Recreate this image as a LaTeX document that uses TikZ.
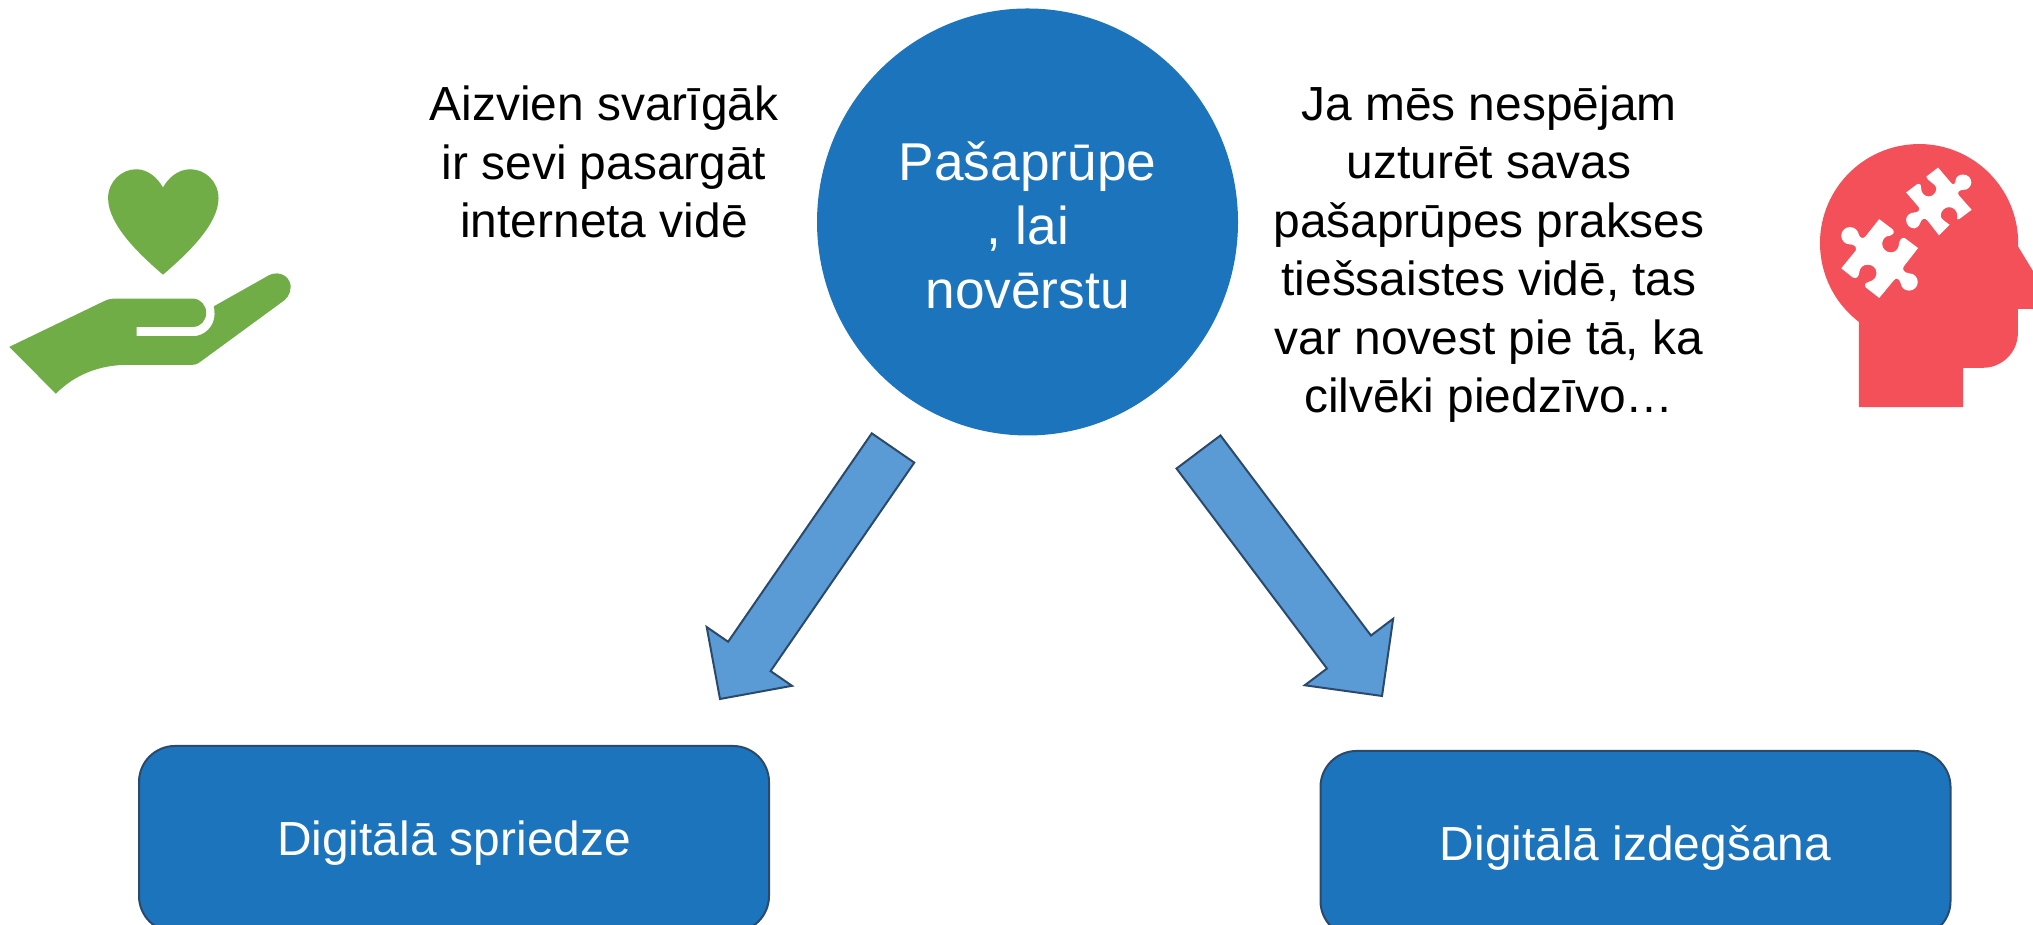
\documentclass[tikz,border=0pt]{standalone}
\usepackage{fontspec}
\setmainfont{Liberation Sans}
\usetikzlibrary{calc, positioning, shapes.geometric}
\definecolor{mainblue}{HTML}{1C74BD}
\definecolor{arrowblue}{HTML}{5B9BD5}
\definecolor{edgeblue}{HTML}{2B4A6B}
\definecolor{handgreen}{HTML}{70AD47}
\definecolor{headred}{HTML}{F4505A}
\tikzset{
  bodytext/.style = {align=center, font=\fontsize{13.62}{16.65}\selectfont},
  topicbox/.style = {draw=edgeblue, line width=0.02cm, fill=mainblue, text=white, rounded corners=0.36cm, minimum width=6.3cm, minimum height=1.86cm, text depth=0.5pt, font=\fontsize{13.62}{16.65}\selectfont},
  icon/.style = {x=0.00333cm, y=-0.00333cm},
  bigarrow/.style n args = {3}{draw=edgeblue, line width=0.02cm, fill=arrowblue, to path={
    ($(\tikztostart)!#1!90:(\tikztotarget)$)
    -- ($($(\tikztotarget)!#3!(\tikztostart)$)!#1!90:(\tikztotarget)$)
    -- ($($(\tikztotarget)!#3!(\tikztostart)$)!#2!90:(\tikztotarget)$)
    -- (\tikztotarget)
    -- ($($(\tikztotarget)!#3!(\tikztostart)$)!#2!-90:(\tikztotarget)$)
    -- ($($(\tikztotarget)!#3!(\tikztostart)$)!#1!-90:(\tikztotarget)$)
    -- ($(\tikztostart)!#1!-90:(\tikztotarget)$) -- cycle}}
}
\begin{document}
\begin{tikzpicture}
  \useasboundingbox (0,0) rectangle (20.33,9.25);
  \path (10.275,7.03) node[ellipse, fill=mainblue, text=white, inner sep=0pt, minimum width=4.21cm, minimum height=4.27cm, align=center, font=\fontsize{15.15}{18.3}\selectfont] (selfcare) {\rule{0pt}{13pt}Pašaprūpe\\, lai\\novērstu}
      ++(-4.235,0.6) node[bodytext] (leftnote) {Aizvien svarīgāk\\ir sevi pasargāt\\interneta vidē}
      ++(8.85,-0.92) node[bodytext] (rightnote) {Ja mēs nespējam\\uzturēt savas\\pašaprūpes prakses\\tiešsaistes vidē, tas\\var novest pie tā, ka\\cilvēki piedzīvo…};
  \path (4.54,0.86) node[topicbox] (judgement) {Digitālā spriedze}
      ++(11.815,-0.05) node[topicbox] (burnout) {Digitālā izdegšana};

  \coordinate (tailleft) at (8.93,4.77);
  \coordinate (tipleft) at (7.20,2.26);
  \coordinate (tailright) at (11.985,4.73);
  \coordinate (tipright) at (13.82,2.29);
  \draw[bigarrow={0.258cm}{0.518cm}{0.517cm}] (tailleft) to (tipleft);
  \draw[bigarrow={0.275cm}{0.553cm}{0.55cm}] (tailright) to (tipright);

  % hand and heart
  \begin{scope}[shift={(0,7.85)}, icon]
    \fill[handgreen] (490,405) .. controls (420,345) and (325,255) .. (325,175) .. controls (325,125) and (365,88) .. (410,88) .. controls (445,88) and (475,115) .. (490,143) .. controls (505,115) and (535,88) .. (572,88) .. controls (617,88) and (657,125) .. (657,175) .. controls (657,255) and (560,345) .. (490,405) -- cycle;
    \fill[handgreen] (28,622) -- (310,486) .. controls (325,478) and (335,477) .. (350,477) -- (580,477) .. controls (603,477) and (620,497) .. (620,520) .. controls (620,543) and (603,562) .. (580,562) -- (411,562) -- (411,590) -- (580,590) .. controls (615,590) and (645,560) .. (645,525) .. controls (645,515) and (645,508) .. (643,500) -- (808,407) .. controls (830,395) and (860,402) .. (870,425) .. controls (880,445) and (870,470) .. (855,482) -- (605,665) .. controls (595,672) and (590,676) .. (578,676) -- (385,676) .. controls (300,676) and (225,705) .. (168,763) -- cycle;
  \end{scope}

  % head and puzzle pieces
  \begin{scope}[shift={(18,7.95)}, icon]
    \fill[headred] (177,833) -- (177,577) arc (127.4:362:298) -- (715,448) -- (715,538) -- (655,538) -- (655,610) .. controls (655,668) and (608,715) .. (550,715) -- (490,715) -- (490,833) -- cycle;
    \fill[white] (124,416) -- (168,362) .. controls (172,350) and (160,344) .. (150,344) .. controls (135,344) and (124,332) .. (124,318) .. controls (124,303) and (136,292) .. (150,292) .. controls (165,292) and (175,303) .. (177,315) .. controls (180,325) and (190,328) .. (197,320) -- (238,268) -- (280,300) .. controls (285,310) and (278,318) .. (270,318) .. controls (255,318) and (247,330) .. (247,343) .. controls (247,358) and (260,368) .. (273,368) .. controls (285,368) and (295,360) .. (297,347) .. controls (297,335) and (305,320) .. (315,325) -- (355,355) -- (312,410) .. controls (305,420) and (315,430) .. (328,431) .. controls (343,431) and (354,443) .. (354,457) .. controls (354,472) and (342,483) .. (328,483) .. controls (315,483) and (305,475) .. (303,462) .. controls (300,450) and (290,440) .. (282,452) -- (238,505) -- (197,473) .. controls (192,462) and (200,458) .. (208,456) .. controls (222,453) and (230,442) .. (230,430) .. controls (230,415) and (218,405) .. (203,405) .. controls (190,405) and (180,413) .. (178,428) .. controls (177,440) and (170,450) .. (158,443) -- cycle;
    \fill[white] (319,188) -- (352,163) .. controls (362,160) and (364,165) .. (364,175) .. controls (364,190) and (375,200) .. (387,200) .. controls (400,200) and (410,188) .. (410,175) .. controls (410,162) and (378,152) .. (380,140) -- (415,113) -- (455,160) .. controls (462,168) and (468,160) .. (468,150) .. controls (470,140) and (478,134) .. (490,134) .. controls (505,134) and (515,145) .. (515,158) .. controls (515,170) and (503,182) .. (490,180) .. controls (480,180) and (470,188) .. (478,197) -- (516,240) -- (480,267) .. controls (470,272) and (472,265) .. (473,258) .. controls (473,243) and (462,232) .. (448,232) .. controls (435,232) and (423,243) .. (423,258) .. controls (423,268) and (437,275) .. (450,285) -- (418,317) -- (383,272) .. controls (375,262) and (365,268) .. (362,278) .. controls (358,290) and (350,296) .. (344,296) .. controls (330,296) and (319,285) .. (319,270) .. controls (319,258) and (330,248) .. (344,248) .. controls (355,248) and (362,240) .. (357,232) -- cycle;
  \end{scope}
\end{tikzpicture}
\end{document}
